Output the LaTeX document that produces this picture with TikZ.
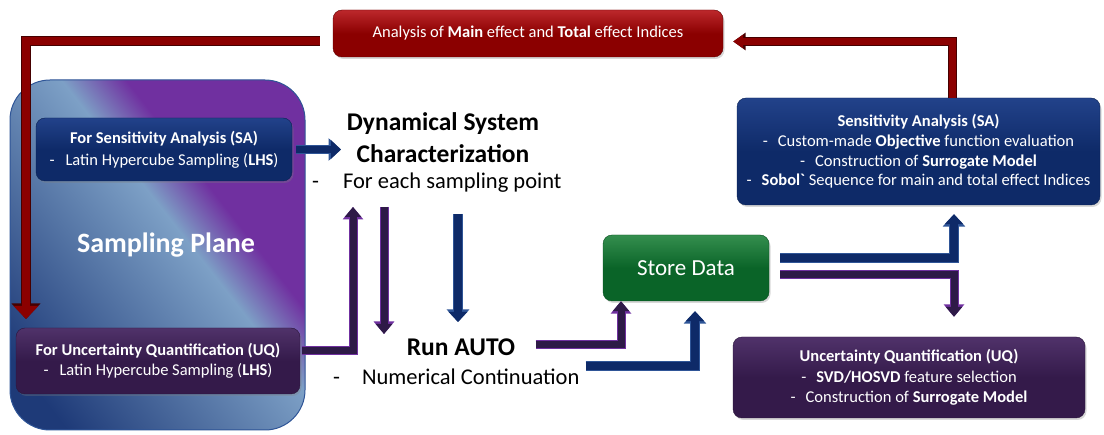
\documentclass[tikz,border=0pt]{standalone}
\usepackage{fontspec}
\setmainfont{Carlito}
\usetikzlibrary{arrows.meta,shadows}
\definecolor{navy}{RGB}{14,42,104}
\definecolor{navytop}{RGB}{34,66,138}
\definecolor{plum}{RGB}{52,26,74}
\definecolor{plumtop}{RGB}{80,50,106}
\definecolor{darkred}{RGB}{139,0,0}
\definecolor{redtop}{RGB}{188,40,44}
\definecolor{greenbox}{RGB}{10,100,40}
\definecolor{greentop}{RGB}{52,142,78}
\definecolor{bshaft}{RGB}{14,42,104}
\definecolor{bedge}{RGB}{47,85,151}
\definecolor{pshaft}{RGB}{46,26,71}
\definecolor{pedge}{RGB}{112,48,160}
\definecolor{redge}{RGB}{70,0,0}
\definecolor{spdark}{RGB}{30,58,120}
\definecolor{splight}{RGB}{125,160,198}
\definecolor{sppurple}{RGB}{112,48,160}
\pgfdeclarehorizontalshading{planeshade}{100bp}{color(0bp)=(spdark); color(22bp)=(spdark); color(55bp)=(splight); color(63bp)=(sppurple); color(100bp)=(sppurple)}
\tikzset{
  box/.style={rounded corners=9pt, text=white, align=center, inner sep=0pt,
    font=\fontsize{16.5}{20}\selectfont,
    drop shadow={shadow xshift=1.5pt, shadow yshift=-2pt, opacity=.3}},
  navyb/.style={box, top color=navytop, bottom color=navy, middle color=navy, draw=navy!80!black, line width=.4pt},
  plumb/.style={box, top color=plumtop, bottom color=plum, middle color=plum, draw=plum!80!black, line width=.4pt},
  redb/.style={box, top color=redtop, bottom color=darkred, middle color=darkred, draw=darkred!70!black, line width=.4pt},
  greenb/.style={box, top color=greentop, bottom color=greenbox, middle color=greenbox, draw=greenbox!80!black, line width=.4pt},
  barrow/.style={draw=bshaft, line width=7.5pt, line join=miter, -{Triangle[width=18pt,length=10pt]},
    preaction={draw=bedge, line width=9.5pt, line join=miter, -{Triangle[width=22pt,length=12.5pt]}}},
  parrow/.style={draw=pshaft, line width=7pt, line join=miter, -{Triangle[width=16pt,length=10pt]},
    preaction={draw=pedge, line width=9pt, line join=miter, -{Triangle[width=20pt,length=12.5pt]}}},
  rarrowbig/.style={draw=darkred, line width=8pt, line join=miter, -{Triangle[width=24pt,length=13pt]},
    preaction={draw=redge, line width=10pt, line join=miter, -{Triangle[width=28pt,length=15.5pt]}}},
  rarrowsmall/.style={draw=darkred, line width=7pt, line join=miter, -{Triangle[width=13pt,length=10pt]},
    preaction={draw=redge, line width=9pt, line join=miter, -{Triangle[width=17pt,length=12.5pt]}}},
  bigtext/.style={font=\fontsize{25.5}{32}\selectfont\bfseries, align=center},
  subtext/.style={anchor=west, inner sep=0pt, font=\fontsize{22.5}{26}\selectfont},
}
\begin{document}
\begin{tikzpicture}[x=1pt,y=-1pt]
\useasboundingbox (0,0) rectangle (1104,435);
\fill[white] (0,0) rectangle (1104,435);

% sampling plane
\node[shade, shading=planeshade, shading angle=38, rounded corners=40pt, draw=bedge, line width=1pt,
      minimum width=295pt, minimum height=350pt, inner sep=0pt] (plane) at (157.5,255) {};
\node[font=\fontsize{28}{30}\selectfont\bfseries, text=white] (sptext) at (166,245) {Sampling Plane};

% boxes
\node[redb, minimum width=390pt, minimum height=47pt] (ana) at (528,33.5)
  {Analysis of \textbf{Main} effect and \textbf{Total} effect Indices};
\node[navyb, minimum width=256pt, minimum height=63pt, font=\fontsize{16.5}{22}\selectfont] (sas) at (164,149.5)
  {\textbf{For Sensitivity Analysis (SA)}\\-\hspace{11pt}Latin Hypercube Sampling (\textbf{LHS})};
\node[plumb, minimum width=284pt, minimum height=66pt, font=\fontsize{16.5}{20}\selectfont] (uqs) at (158,361)
  {\textbf{For Uncertainty Quantification (UQ)}\\-\hspace{11pt}Latin Hypercube Sampling (\textbf{LHS})};
\node[greenb, minimum width=166pt, minimum height=66pt, font=\fontsize{23}{26}\selectfont] (store) at (686,268) {Store Data};
\node[navyb, minimum width=363pt, minimum height=107pt, font=\fontsize{16.5}{19.7}\selectfont] (sar) at (918.5,151.5)
  {\textbf{Sensitivity Analysis (SA)}\\
   -\hspace{10pt}Custom-made \textbf{Objective} function evaluation\\
   -\hspace{10pt}Construction of \textbf{Surrogate Model}\\
   -\hspace{10pt}\textbf{Sobol\textasciigrave} Sequence for main and total effect Indices};
\node[plumb, minimum width=352pt, minimum height=81pt, font=\fontsize{16.5}{20.5}\selectfont] (uqr) at (909,377.5)
  {\textbf{Uncertainty Quantification (UQ)}\\
   -\hspace{10pt}\textbf{SVD/HOSVD} feature selection\\
   -\hspace{10pt}Construction of \textbf{Surrogate Model}};

% free text
\node[bigtext] (dyn) at (443,138) {Dynamical System\\Characterization};
\node[subtext] (dynsub) at (312,183) {-\hspace{24pt}For each sampling point};
\node[bigtext] (run) at (461,347) {Run AUTO};
\node[subtext] (runsub) at (333,377) {-\hspace{22pt}Numerical Continuation};

% free ends
\coordinate (redtip) at (26,319);
\coordinate (dynin) at (341,149.5);
\coordinate (upA) at (353,207);
\coordinate (pdA) at (384,207);
\coordinate (pdB) at (384,334);
\coordinate (bdA) at (458,214);
\coordinate (bdB) at (458,322);

% connectors
\draw[rarrowbig] ([xshift=-13pt,yshift=-8pt]ana.west) -| (redtip);
\draw[rarrowsmall] ([xshift=34pt]sar.north) |- ([xshift=10pt,yshift=-8pt]ana.east);
\draw[barrow] ([xshift=4pt]sas.east) -- (dynin);
\draw[parrow] ([xshift=2pt,yshift=10pt]uqs.east) -| (upA);
\draw[parrow] (pdA) -- (pdB);
\draw[barrow] (bdA) -- (bdB);
\draw[parrow] ([xshift=17pt,yshift=2pt]run.east) -| ([xshift=-65pt]store.south);
\draw[barrow] ([xshift=6pt,yshift=11pt]runsub.east) -| ([xshift=9pt,yshift=-10pt]store.south);
\draw[barrow] ([xshift=11pt,yshift=10pt]store.east) -| ([xshift=35.5pt,yshift=-9pt]sar.south);
\draw[parrow] ([xshift=11pt,yshift=-7pt]store.east) -| ([xshift=45pt,yshift=20pt]uqr.north);
\end{tikzpicture}
\end{document}
